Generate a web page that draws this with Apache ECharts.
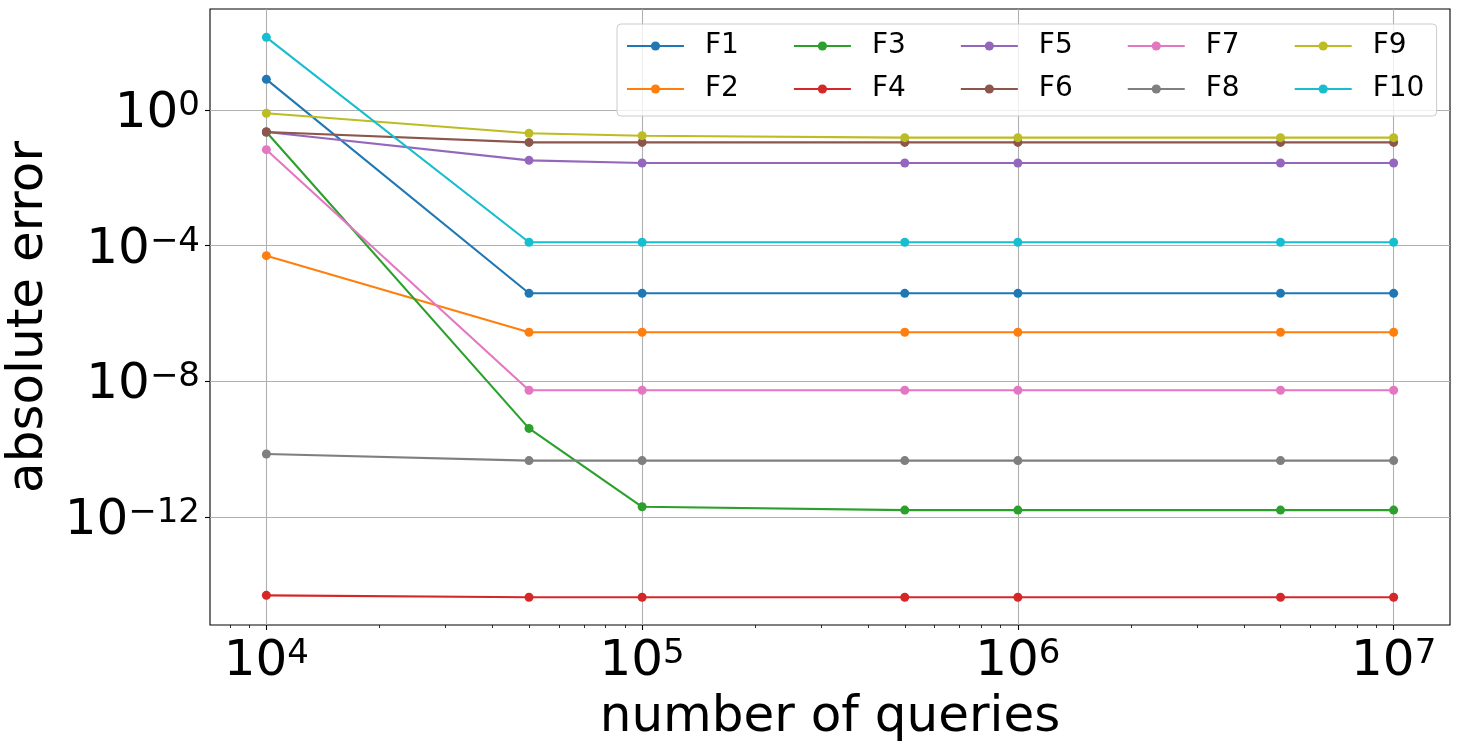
<!DOCTYPE html>
<html>
<head>
<meta charset="utf-8">
<title>absolute error vs number of queries</title>
<script src="https://cdn.jsdelivr.net/npm/echarts@6/dist/echarts.min.js"></script>
<style>
  html, body { margin: 0; padding: 0; background: #fff; }
  #chart { width: 1459px; height: 748px; }
</style>
</head>
<body>
<div id="chart"></div>
<script>
// number of queries (x) and absolute error for each function (y)
const queries = [1e4, 5e4, 1e5, 5e5, 1e6, 5e6, 1e7];
const names = ["F1", "F2", "F3", "F4", "F5", "F6", "F7", "F8", "F9", "F10"];
const colors = ["#1f77b4", "#ff7f0e", "#2ca02c", "#d62728", "#9467bd",
                "#8c564b", "#e377c2", "#7f7f7f", "#bcbd22", "#17becf"];

const f1 = [8.0, 3.94e-6, 3.94e-6, 3.94e-6, 3.94e-6, 3.94e-6, 3.94e-6];
const f2 = [5.07e-5, 2.8e-7, 2.8e-7, 2.8e-7, 2.8e-7, 2.8e-7, 2.8e-7];
const f3 = [0.225, 4.1e-10, 2.0e-12, 1.6e-12, 1.6e-12, 1.6e-12, 1.6e-12];
const f4 = [4.9e-15, 4.3e-15, 4.3e-15, 4.3e-15, 4.3e-15, 4.3e-15, 4.3e-15];
const f5 = [0.225, 0.0328, 0.0274, 0.0274, 0.0274, 0.0274, 0.0274];
const f6 = [0.225, 0.111, 0.111, 0.111, 0.111, 0.111, 0.111];
const f7 = [0.0676, 5.45e-9, 5.45e-9, 5.45e-9, 5.45e-9, 5.45e-9, 5.45e-9];
const f8 = [7.2e-11, 4.6e-11, 4.6e-11, 4.6e-11, 4.6e-11, 4.6e-11, 4.6e-11];
const f9 = [0.80, 0.206, 0.175, 0.153, 0.153, 0.153, 0.153];
const f10 = [139, 1.26e-4, 1.26e-4, 1.26e-4, 1.26e-4, 1.26e-4, 1.26e-4];
const errors = [f1, f2, f3, f4, f5, f6, f7, f8, f9, f10];

// labelled ticks
const xTicks = [1e4, 1e5, 1e6, 1e7];
const yTicks = [1e-12, 1e-8, 1e-4, 1];

// legend rows (matplotlib fills columns first)
const legendRow1 = ["F1", "F3", "F5", "F7", "F9"];
const legendRow2 = ["F2", "F4", "F6", "F8", "F10"];

const FONT = "DejaVu Sans";

function powerLabel(value) {
  const e = Math.round(Math.log10(value));
  const exp = e < 0 ? "\u2212" + (-e) : String(e);
  return "{b|10}{s|" + exp + "}";
}

const labelRich = {
  b: { fontFamily: FONT, fontSize: 50, lineHeight: 50, color: "#000" },
  s: { fontFamily: FONT, fontSize: 34, lineHeight: 34, verticalAlign: "top", color: "#000" }
};

const chart = echarts.init(document.getElementById("chart"), null, { renderer: "canvas" });

const series = names.map(function (name, k) {
  return {
    name: name,
    type: "line",
    data: queries.map(function (q, i) { return [q, errors[k][i]]; }),
    symbol: "circle",
    symbolSize: 9,
    showSymbol: true,
    showAllSymbol: true,
    color: colors[k],
    lineStyle: { width: 2.1, color: colors[k] },
    itemStyle: { color: colors[k] },
    emphasis: { disabled: true },
    z: 2 + k * 0.01
  };
});

const legendText = {
  fontFamily: FONT,
  fontSize: 28,
  lineHeight: 30,
  color: "#000",
  padding: [0, 0, 0, 16]
};

const option = {
  animation: false,
  backgroundColor: "#fff",
  grid: {
    left: 210,
    top: 9,
    width: 1240,
    height: 616,
    show: true,
    borderColor: "#000",
    borderWidth: 1.1,
    backgroundColor: "transparent",
    containLabel: false,
    outerBoundsMode: "none"
  },
  legend: [
    {
      data: legendRow1,
      left: 617,
      top: 24,
      orient: "horizontal",
      padding: [7, 30, 55, 9],
      itemWidth: 57,
      itemHeight: 11.5,
      itemGap: 54,
      selectedMode: false,
      backgroundColor: "rgba(255,255,255,0.8)",
      borderColor: "#cccccc",
      borderWidth: 1,
      borderRadius: 4,
      textStyle: legendText
    },
    {
      data: legendRow2,
      left: 626,
      top: 74,
      orient: "horizontal",
      padding: 0,
      itemWidth: 57,
      itemHeight: 11.5,
      itemGap: 54,
      selectedMode: false,
      textStyle: legendText
    }
  ],
  xAxis: {
    type: "log",
    logBase: 10,
    min: Math.pow(10, 3.85),
    max: Math.pow(10, 7.15),
    name: "number of queries",
    nameLocation: "middle",
    nameGap: 68,
    nameTextStyle: { fontFamily: FONT, fontSize: 50, color: "#000" },
    axisLine: { show: false },
    axisTick: { show: true, length: 5, inside: false, customValues: xTicks,
                lineStyle: { color: "#000", width: 1.1 } },
    minorTick: { show: true, splitNumber: 9, length: 3,
                 lineStyle: { color: "#000", width: 0.8 } },
    axisLabel: { customValues: xTicks, margin: 12, formatter: powerLabel, rich: labelRich },
    splitLine: { show: true, lineStyle: { color: "#b0b0b0", width: 1.1 } },
    minorSplitLine: { show: false }
  },
  yAxis: {
    type: "log",
    logBase: 10,
    min: Math.pow(10, -15.184),
    max: Math.pow(10, 2.978),
    name: "absolute error",
    nameLocation: "middle",
    nameGap: 150,
    nameTextStyle: { fontFamily: FONT, fontSize: 50, color: "#000" },
    axisLine: { show: false },
    axisTick: { show: true, length: 5, inside: false, customValues: yTicks,
                lineStyle: { color: "#000", width: 1.1 } },
    axisLabel: { customValues: yTicks, margin: 10, padding: [8, 0, 0, 0],
                 formatter: powerLabel, rich: labelRich },
    splitLine: { show: true, lineStyle: { color: "#b0b0b0", width: 1.1 } }
  },
  series: series
};

chart.setOption(option);
</script>
</body>
</html>
